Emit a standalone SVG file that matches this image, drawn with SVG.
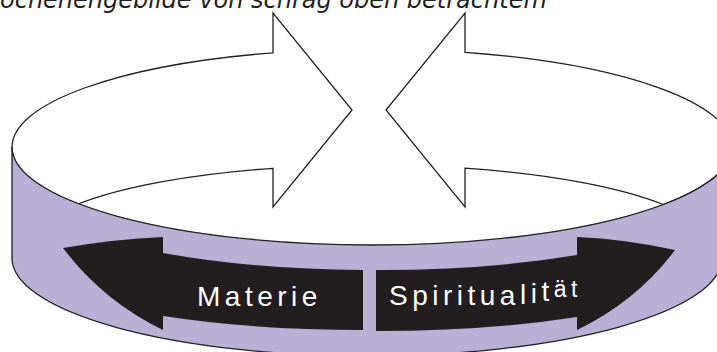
<svg xmlns="http://www.w3.org/2000/svg" width="717" height="352" viewBox="0 0 717 352">
  <style>
    .outline { stroke: #231f20; stroke-width: 1.3; stroke-linejoin: miter; }
    .white { fill: #ffffff; }
    .band { fill: #b9b0d6; }
    .dark { fill: #221e1f; stroke: none; }
    .label { font-family: "Liberation Sans", Arial, sans-serif; font-size: 28px; fill: #ffffff; letter-spacing: 4.5px; }
    .title { font-family: "DejaVu Sans", Verdana, sans-serif; font-style: italic; font-size: 24px; fill: #231f20; }
  </style>
  <rect width="717" height="352" fill="#ffffff"/>
  <text id="title" class="title" x="0" y="8">ochenengebilde von schräg oben betrachtem</text>
  <g id="arrow-top-left">
    <path class="white outline" d="M 273,168.3 L 273,207 L 352,110 L 273,13 L 273,52.8 A 360 98 0 0 0 12,147 A 360 98 0 0 0 78,204 A 340 80 0 0 1 273,168.3 Z"/>
  </g>
  <g id="arrow-top-right">
    <path class="white outline" d="M 465,168.2 L 465,207 L 386,110 L 465,13 L 465,52.3 A 360 98 0 0 1 732,147 A 360 98 0 0 1 663,204.5 A 340 80 0 0 0 465,168.2 Z"/>
  </g>
  <g id="ring-band">
    <path class="band outline" d="M 12,147 A 360 98 0 0 0 372,245 A 360 98 0 0 0 732,147 L 722,258 A 355 98 0 0 1 367,356 A 355 98 0 0 1 12,258 Z"/>
  </g>
  <g id="arrow-materie">
    <path class="dark" d="M 63,248 Q 115,239 163,237 L 163,253 A 355 90 0 0 0 363,270 L 363,330 A 355 80 0 0 1 163,316 L 163,330 Q 103,301 63,248 Z"/>
    <text class="label" x="197" y="306">Materie</text>
  </g>
  <g id="arrow-spiritualitaet">
    <path class="dark" d="M 675,250 Q 625,239 577,237 L 577,255 A 355 90 0 0 1 376,270 L 376,331 A 355 80 0 0 0 577,317 L 577,330 Q 637,301 675,250 Z"/>
    <text class="label" x="389" y="305">Spiritua<tspan dy="-1">l</tspan><tspan dy="-1">i</tspan><tspan dy="-2">t</tspan><tspan dy="-4" font-size="23px">ät</tspan></text>
  </g>
  <g id="connectors"/>
</svg>
